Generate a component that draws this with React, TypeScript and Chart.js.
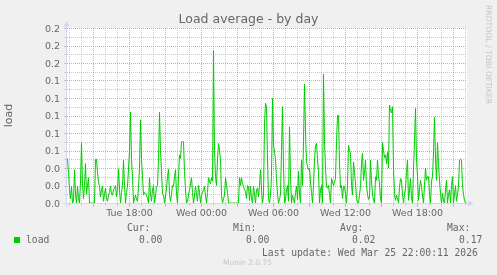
import React, { useEffect, useRef } from "react";
import { Chart, registerables } from "chart.js";

Chart.register(...registerables);

// Time axis: hours counted from Tue 00:00; one sample every 5 minutes
const START_HOUR = 12 + 47.5 / 60; // Tue 12:47:30
const STEP_HOURS = 5 / 60;

// load average samples (5-minute steps)
const loadValues: number[] = [
  0.051, 0.035, 0.015, 0.005, 0.019, 0, 0.002, 0.038, 0.01, 0,
  0.019, 0.005, 0, 0.024, 0.069, 0.022, 0.005, 0.02, 0.045, 0.01,
  0.02, 0.029, 0, 0, 0, 0, 0, 0, 0.05, 0.05,
  0.035, 0.024, 0.019, 0.007, 0.015, 0.019, 0.002, 0.01, 0.017, 0.005,
  0.002, 0.009, 0.012, 0.019, 0.01, 0.009, 0.015, 0.017, 0.02, 0.007,
  0.015, 0.039, 0.015, 0, 0.012, 0.02, 0.049, 0.02, 0, 0.012,
  0.019, 0.039, 0.06, 0.104, 0.05, 0.03, 0, 0.005, 0.009, 0.004,
  0.002, 0.019, 0.04, 0.095, 0.05, 0.029, 0.009, 0.012, 0.011, 0.009,
  0.005, 0, 0.029, 0.01, 0.002, 0.015, 0.02, 0, 0.008, 0.019,
  0.02, 0.05, 0.104, 0.06, 0.036, 0.01, 0.009, 0, 0.008, 0.017,
  0.03, 0.039, 0.01, 0.002, 0.01, 0.02, 0.019, 0.03, 0.038, 0.01,
  0, 0.03, 0.055, 0.051, 0.07, 0.07, 0.07, 0.036, 0.015, 0,
  0.002, 0.009, 0.015, 0.022, 0.029, 0.012, 0, 0.008, 0.019, 0.01,
  0.002, 0.02, 0.012, 0, 0.009, 0.012, 0.015, 0.019, 0.008, 0,
  0.012, 0.029, 0.025, 0.022, 0.029, 0.025, 0.174, 0.06, 0.03, 0.02,
  0.05, 0.068, 0.06, 0.05, 0.009, 0, 0.005, 0.009, 0.029, 0.02,
  0.012, 0, 0, 0, 0, 0, 0, 0, 0, 0,
  0, 0, 0.029, 0.02, 0.029, 0.022, 0.019, 0.015, 0.013, 0.005,
  0.02, 0.019, 0.003, 0.019, 0.005, 0, 0.019, 0.01, 0, 0.015,
  0.017, 0.007, 0.02, 0.038, 0.015, 0, 0.009, 0.09, 0.114, 0.11,
  0.05, 0.005, 0, 0.009, 0.03, 0.12, 0.066, 0.058, 0.05, 0.028,
  0.01, 0, 0.004, 0.01, 0.06, 0.11, 0.04, 0, 0.003, 0.015,
  0.02, 0.002, 0.087, 0.03, 0, 0.009, 0.004, 0, 0.012, 0.019,
  0.004, 0.036, 0.01, 0, 0.049, 0.02, 0.07, 0.136, 0.081, 0.047,
  0.042, 0.038, 0.04, 0.024, 0.012, 0, 0.02, 0.05, 0.066, 0.068,
  0.05, 0.036, 0, 0.015, 0.02, 0, 0.147, 0.07, 0.04, 0.019,
  0.017, 0.02, 0.01, 0, 0.028, 0.024, 0.02, 0.024, 0.028, 0.07,
  0.1, 0.1, 0.045, 0.017, 0.02, 0.005, 0.019, 0.019, 0.01, 0,
  0.02, 0.066, 0.06, 0.057, 0.02, 0.009, 0.047, 0.035, 0.023, 0.005,
  0, 0, 0.01, 0.019, 0.045, 0.057, 0.026, 0.035, 0.049, 0.02,
  0.01, 0.004, 0.005, 0.049, 0.026, 0.01, 0.003, 0, 0.03, 0.026,
  0.049, 0.03, 0.023, 0.005, 0, 0.069, 0.06, 0.052, 0.055, 0.045,
  0.058, 0.04, 0.112, 0.106, 0.103, 0.11, 0.04, 0.01, 0.003, 0.009,
  0.005, 0, 0.018, 0.028, 0.026, 0.01, 0, 0.01, 0.017, 0.035,
  0.049, 0.003, 0.015, 0.028, 0.005, 0, 0.04, 0.07, 0.108, 0.05,
  0.03, 0.003, 0.015, 0.026, 0.019, 0.008, 0, 0.02, 0.04, 0.026,
  0.03, 0.03, 0.01, 0, 0.025, 0.03, 0.057, 0.098, 0.05, 0.026,
  0.069, 0.045, 0.026, 0.01, 0, 0.011, 0.002, 0, 0.015, 0.026,
  0, 0.01, 0.015, 0, 0.02, 0.03, 0, 0.01, 0.02, 0.002,
  0.01, 0.019, 0.049, 0.05, 0.049, 0.019, 0.01, 0.003, 0, 0,
];

const xTickHours = [18, 24, 30, 36, 42];
const xTickLabels = ["Tue 18:00", "Wed 00:00", "Wed 06:00", "Wed 12:00", "Wed 18:00"];
const yTickLabels = ["0.0", "0.0", "0.0", "0.1", "0.1", "0.1", "0.1", "0.1", "0.2", "0.2", "0.2"];
const legendHeaders = ["Cur:", "Min:", "Avg:", "Max:"];
const legendValues = ["0.00", "0.00", "0.02", "0.17"];
const seriesName = "load";
const titleText = "Load average - by day";
const lastUpdate = "Last update: Wed Mar 25 22:00:11 2026";
const footerText = "Munin 2.0.75";
const sideText = "RRDTOOL / TOBI OETIKER";

const X_MIN = START_HOUR;
const X_MAX = START_HOUR + loadValues.length * STEP_HOURS;

const LINE = "#00CC00";
const AXIS = "#CFD6F8";
const MGRID = "rgba(222,79,79,0.55)";
const GRID = "rgba(150,150,150,0.5)";
const FONT = "#666666";

const muninPlugin = {
  id: "muninLook",
  beforeDraw(chart: any) {
    const { ctx, chartArea: a } = chart;
    ctx.save();
    ctx.fillStyle = "#FFFFFF";
    ctx.fillRect(a.left, a.top, a.right - a.left, a.bottom - a.top);
    ctx.restore();
  },
  beforeDatasetsDraw(chart: any) {
    const { ctx, chartArea: a, scales } = chart;
    const x = scales.x;
    const y = scales.y;
    ctx.save();
    ctx.lineWidth = 1;
    ctx.setLineDash([1, 1]);
    y.ticks.forEach((t: any, i: number) => {
      const py = Math.round(y.getPixelForValue(t.value)) + 0.5;
      ctx.strokeStyle = i % 2 === 0 ? MGRID : GRID;
      ctx.beginPath();
      ctx.moveTo(a.left, py);
      ctx.lineTo(a.right, py);
      ctx.stroke();
    });
    x.ticks.forEach((t: any) => {
      const px = Math.floor(x.getPixelForValue(t.value)) + 0.5;
      const major = Math.round(t.value) % 3 === 0;
      ctx.strokeStyle = major ? MGRID : GRID;
      ctx.beginPath();
      ctx.moveTo(px, a.top);
      ctx.lineTo(px, a.bottom);
      ctx.stroke();
    });
    ctx.restore();
  },
  afterDatasetsDraw(chart: any) {
    const { ctx, chartArea: a, scales } = chart;
    const x = scales.x;
    const y = scales.y;
    ctx.save();
    ctx.lineWidth = 1;
    ctx.setLineDash([]);
    const yb = Math.round(a.bottom) + 0.5;
    const xl = Math.round(a.left) - 0.5;
    // tick marks
    x.ticks.forEach((t: any) => {
      const px = Math.floor(x.getPixelForValue(t.value)) + 0.5;
      const major = Math.round(t.value) % 3 === 0;
      ctx.strokeStyle = major ? MGRID : GRID;
      ctx.beginPath();
      ctx.moveTo(px, yb);
      ctx.lineTo(px, yb + (major ? 3 : 2));
      ctx.stroke();
    });
    y.ticks.forEach((t: any, i: number) => {
      const py = Math.round(y.getPixelForValue(t.value)) + 0.5;
      ctx.strokeStyle = i % 2 === 0 ? MGRID : GRID;
      ctx.beginPath();
      ctx.moveTo(xl - 2, py);
      ctx.lineTo(xl, py);
      ctx.stroke();
    });
    // axes
    ctx.strokeStyle = AXIS;
    ctx.fillStyle = AXIS;
    ctx.beginPath();
    ctx.moveTo(a.left - 4, yb);
    ctx.lineTo(a.right + 2, yb);
    ctx.stroke();
    ctx.beginPath();
    ctx.moveTo(a.right + 6.5, yb);
    ctx.lineTo(a.right + 1, yb - 3);
    ctx.lineTo(a.right + 1, yb + 3);
    ctx.closePath();
    ctx.fill();
    ctx.beginPath();
    ctx.moveTo(xl, a.bottom + 4);
    ctx.lineTo(xl, a.top - 2);
    ctx.stroke();
    ctx.beginPath();
    ctx.moveTo(xl, a.top - 7);
    ctx.lineTo(xl - 3, a.top - 1.5);
    ctx.lineTo(xl + 3, a.top - 1.5);
    ctx.closePath();
    ctx.fill();
    ctx.restore();
  },
};

const tickFont = { family: "'DejaVu Sans', sans-serif", size: 9.5, lineHeight: 1.2 };

export default function App() {
  const canvasRef = useRef<HTMLCanvasElement | null>(null);

  useEffect(() => {
    const canvas = canvasRef.current;
    if (!canvas) return;
    const points = loadValues.map((v, i) => ({ x: START_HOUR + (i + 0.5) * STEP_HOURS, y: v }));
    const chart = new Chart(canvas, {
      type: "line",
      data: {
        datasets: [
          {
            label: seriesName,
            data: points,
            borderColor: LINE,
            backgroundColor: LINE,
            borderWidth: 1,
            pointRadius: 0,
            tension: 0,
            fill: false,
          },
        ],
      },
      options: {
        animation: false,
        responsive: false,
        devicePixelRatio: 1,
        events: [],
        layout: { padding: 0 },
        plugins: {
          legend: { display: false },
          tooltip: { enabled: false },
          title: {
            display: true,
            text: titleText,
            color: FONT,
            font: { family: "'DejaVu Sans', sans-serif", size: 12.5, weight: "normal", lineHeight: 1.2 },
            padding: { top: 12, bottom: 1 },
          },
        },
        scales: {
          x: {
            type: "linear",
            min: X_MIN,
            max: X_MAX,
            afterFit: (s: any) => {
              s.height = 72;
            },
            grid: { display: false, drawTicks: false },
            border: { display: false },
            ticks: {
              stepSize: 1,
              autoSkip: false,
              includeBounds: false,
              maxRotation: 0,
              padding: 5,
              color: FONT,
              font: tickFont,
              callback: (v: any) => {
                const k = xTickHours.findIndex((h) => Math.abs(h - Number(v)) < 1e-6);
                return k >= 0 ? xTickLabels[k] : "";
              },
            },
          },
          y: {
            type: "linear",
            position: "left",
            min: 0,
            max: 0.2,
            afterFit: (s: any) => {
              s.width = 67;
            },
            grid: { display: false, drawTicks: false },
            border: { display: false },
            title: {
              display: true,
              text: seriesName,
              color: FONT,
              font: { family: "'DejaVu Sans', sans-serif", size: 11, lineHeight: 1.2 },
              padding: { top: 3, bottom: 0 },
            },
            ticks: {
              stepSize: 0.01,
              autoSkip: false,
              padding: 7,
              labelOffset: 1.5,
              color: FONT,
              font: tickFont,
              callback: (_v: any, i: number) => (i % 2 === 0 ? yTickLabels[i / 2] : ""),
            },
          },
          yr: {
            type: "linear",
            position: "right",
            min: 0,
            max: 0.2,
            afterFit: (s: any) => {
              s.width = 30;
            },
            grid: { display: false, drawTicks: false },
            border: { display: false },
            ticks: { display: false },
          },
        },
      } as any,
      plugins: [muninPlugin],
    });
    return () => chart.destroy();
  }, []);

  const mono: React.CSSProperties = {
    position: "absolute",
    fontFamily: "'DejaVu Sans Mono', monospace",
    fontSize: "9.7px",
    lineHeight: "12px",
    color: FONT,
    whiteSpace: "pre",
  };
  const headerX = [127, 233, 340, 447];
  const valueX = [139, 246, 352, 459];

  return (
    <div
      style={{
        position: "absolute",
        left: 0,
        top: 0,
        width: 497,
        height: 275,
        background: "#F0F0F0",
        overflow: "hidden",
      }}
    >
      <canvas ref={canvasRef} width={497} height={275} style={{ position: "absolute", left: 0, top: 0, width: 497, height: 275 }} />
      <div style={{ position: "absolute", left: 14, top: 237, width: 6, height: 6, background: LINE }} />
      <div style={{ ...mono, left: 26, top: 234 }}>{seriesName}</div>
      {legendHeaders.map((h, i) => (
        <div key={h} style={{ ...mono, left: headerX[i], top: 222 }}>
          {h}
        </div>
      ))}
      {legendValues.map((v, i) => (
        <div key={i} style={{ ...mono, left: valueX[i], top: 234 }}>
          {v}
        </div>
      ))}
      <div style={{ ...mono, left: 262, top: 247 }}>{lastUpdate}</div>
      <div
        style={{
          position: "absolute",
          left: 223,
          top: 258,
          fontFamily: "'DejaVu Sans', sans-serif",
          fontSize: "7.5px",
          lineHeight: "10px",
          color: "#C6C6C6",
          whiteSpace: "pre",
        }}
      >
        {footerText}
      </div>
      <div
        style={{
          position: "absolute",
          left: 483,
          top: 5,
          writingMode: "vertical-rl",
          fontFamily: "'DejaVu Sans', sans-serif",
          fontSize: "7.7px",
          lineHeight: "10px",
          color: "#C6C6C6",
          whiteSpace: "pre",
        }}
      >
        {sideText}
      </div>
    </div>
  );
}
